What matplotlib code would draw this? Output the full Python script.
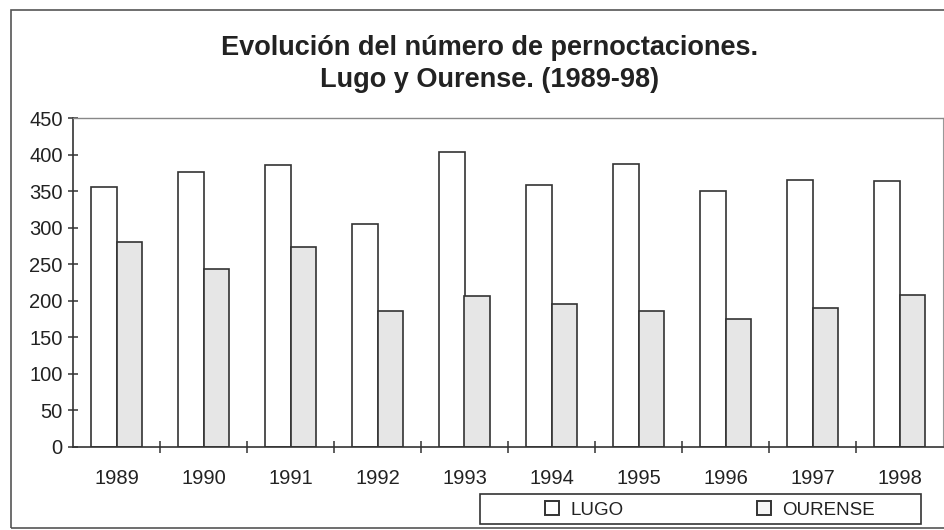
import matplotlib
matplotlib.use("Agg")
import matplotlib.pyplot as plt
from matplotlib.patches import Rectangle, Patch
import numpy as np

plt.rcParams['font.family'] = ['Liberation Sans', 'DejaVu Sans']

# data
years = ["1989", "1990", "1991", "1992", "1993", "1994", "1995", "1996", "1997", "1998"]
lugo = [355, 376, 386, 305, 404, 358, 387, 350, 365, 364]
ourense = [280, 244, 273, 186, 207, 196, 186, 175, 190, 208]

title = "Evolución del número de pernoctaciones.\nLugo y Ourense. (1989-98)"

fig = plt.figure(figsize=(9.44, 5.30), dpi=100)
ax = fig.add_axes([73 / 944, 83 / 530, 870 / 944, 329 / 530])

x = np.arange(len(years))
w = 0.29
edge = "#333333"
ax.bar(x - w / 2, lugo, w, color="white", edgecolor=edge, linewidth=1.2, label="LUGO")
ax.bar(x + w / 2, ourense, w, color="#e6e6e6", edgecolor=edge, linewidth=1.2, label="OURENSE")

ax.set_xlim(-0.5, len(years) - 0.5)
ax.set_ylim(0, 450)
ax.set_yticks(range(0, 451, 50))
ax.set_xticks(x)
ax.set_xticklabels(years)
ax.set_xticks(x[:-1] + 0.5, minor=True)

ax.tick_params(axis="y", direction="inout", length=7, width=1.1, color=edge,
               labelsize=14.5, labelcolor="#222222", pad=4)
ax.tick_params(axis="x", which="major", length=0, labelsize=14.5,
               labelcolor="#222222", pad=16)
ax.tick_params(axis="x", which="minor", direction="inout", length=8,
               width=1.1, color=edge)

for s in ["left", "bottom"]:
    ax.spines[s].set_color(edge)
    ax.spines[s].set_linewidth(1.2)
ax.spines["top"].set_color("#888888")
ax.spines["top"].set_linestyle((0, (1, 1)))
ax.spines["top"].set_linewidth(1.0)
ax.spines["right"].set_color("#999999")
ax.spines["right"].set_linewidth(0.8)

fig.text(490 / 944, 1 - 64 / 530, title, ha="center", va="center",
         fontsize=19.5, fontweight="bold", color="#222222", linespacing=1.3)

# outer chart frame
fig.patches.append(Rectangle((11 / 944, 2 / 530), 1.0, 518 / 530,
                             transform=fig.transFigure, fill=False,
                             edgecolor="#555555", linewidth=1.2))

# legend frame
fig.patches.append(Rectangle((480 / 944, 6 / 530), 441 / 944, 30 / 530,
                             transform=fig.transFigure, fill=False,
                             edgecolor="#333333", linewidth=1.2))
handles = [Patch(facecolor="white", edgecolor=edge, linewidth=1.4),
           Patch(facecolor="#f4f4f4", edgecolor=edge, linewidth=1.4)]
fig.legend(handles, ["LUGO", "OURENSE"], loc="center", ncol=2,
           bbox_to_anchor=(710 / 944, 1 - 510 / 530), frameon=False,
           fontsize=13.5, handlelength=0.75, handleheight=0.75,
           handletextpad=0.6, columnspacing=7.1, labelcolor="#222222",
           borderpad=0.2)

fig.savefig("out.png", dpi=100)
